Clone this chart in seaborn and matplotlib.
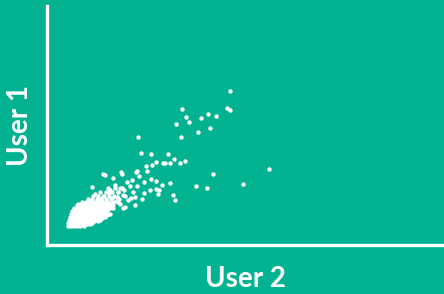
import numpy as np
import pandas as pd
import matplotlib.pyplot as plt
import seaborn as sns

# =========================
# DATA (user 2 vs user 1 scores)

# dense cluster near the origin
blob_x = [21, 24, 27, 30, 33, 37,
          21, 24, 27, 30, 33, 36, 39, 42, 45,
          22, 25, 28, 31, 34, 37, 40, 43, 46, 49, 53,
          23, 26, 29, 32, 35, 38, 41, 44, 47, 50, 54, 58,
          24, 27, 30, 33, 36, 39, 42, 45, 48, 51, 55, 59, 63,
          25, 28, 31, 34, 37, 40, 43, 46, 49, 52, 56, 60,
          27, 30, 33, 36, 39, 42, 45, 49, 53, 57, 62, 66,
          30, 33, 36, 40, 44, 47, 51, 55, 59, 64,
          35, 39, 43, 47, 51, 56, 61, 66, 71,
          41, 45, 50, 54, 59, 64,
          46, 51, 57, 62, 67,
          53, 59, 65, 71,
          61, 68, 73,
          # in-between rows
          22, 25, 28, 31, 34, 37, 40, 43,
          23, 26, 29, 32, 35, 38, 41, 44, 47, 51,
          24, 27, 30, 33, 36, 39, 42, 45, 48, 51, 55,
          25, 28, 31, 34, 37, 40, 43, 46, 49, 52, 56, 60,
          26, 29, 32, 35, 38, 41, 44, 47, 50, 54, 58,
          28, 31, 34, 37, 40, 43, 46, 50, 54, 58,
          31, 34, 37, 40, 43, 47, 51, 55, 60,
          36, 40, 44, 48, 52, 57, 62]
blob_y = [19, 19, 19, 19, 19, 19,
          22, 22, 22, 22, 22, 22, 22, 22, 22,
          25, 25, 25, 25, 25, 25, 25, 25, 25, 25, 25,
          28, 28, 28, 28, 28, 28, 28, 28, 28, 28, 28, 28,
          31, 31, 31, 31, 31, 31, 31, 31, 31, 31, 31, 31, 31,
          34, 34, 34, 34, 34, 34, 34, 34, 34, 34, 34, 34,
          37, 37, 37, 37, 37, 37, 37, 37, 37, 37, 37, 37,
          40, 40, 40, 40, 40, 40, 40, 40, 40, 40,
          43, 43, 43, 43, 43, 43, 43, 43, 43,
          46, 46, 46, 46, 46, 46,
          49, 49, 49, 49, 49,
          53, 53, 53, 53,
          57, 57, 57,
          20.5, 20.5, 20.5, 20.5, 20.5, 20.5, 20.5, 20.5,
          23.5, 23.5, 23.5, 23.5, 23.5, 23.5, 23.5, 23.5, 23.5, 23.5,
          26.5, 26.5, 26.5, 26.5, 26.5, 26.5, 26.5, 26.5, 26.5, 26.5, 26.5,
          29.5, 29.5, 29.5, 29.5, 29.5, 29.5, 29.5, 29.5, 29.5, 29.5, 29.5, 29.5,
          32.5, 32.5, 32.5, 32.5, 32.5, 32.5, 32.5, 32.5, 32.5, 32.5, 32.5,
          35.5, 35.5, 35.5, 35.5, 35.5, 35.5, 35.5, 35.5, 35.5, 35.5,
          38.5, 38.5, 38.5, 38.5, 38.5, 38.5, 38.5, 38.5, 38.5,
          41.5, 41.5, 41.5, 41.5, 41.5, 41.5, 41.5]

# scattered points
spread_x = [183, 180, 183, 135, 139, 142, 129, 154, 161, 169, 151, 163, 134, 91,
            222, 196, 166, 149, 160, 138, 133, 127, 121, 118, 123, 104, 94, 109,
            99, 105, 116, 58, 123, 115, 126, 128, 109, 112, 104, 90, 89, 74, 75,
            56, 66, 45, 48, 31, 109, 111, 103, 97, 95, 84, 77, 76, 72, 70, 63,
            60, 55, 52, 62, 88, 88, 78, 69, 54,
            53, 56, 59, 63, 65, 68, 71, 73, 75, 78, 80, 83, 86, 61, 66, 57, 50,
            70, 76, 81, 85, 90, 92, 97, 100]
spread_y = [154, 137, 135, 136, 128, 123, 121, 127, 131, 129, 113, 117, 108, 108,
            76, 61, 71, 59, 57, 84, 82, 86, 91, 82, 82, 91, 92, 83,
            79, 80, 82, 70, 62, 60, 50, 45, 64, 55, 66, 74, 73, 73, 71,
            71, 67, 58, 51, 41, 56, 51, 55, 52, 46, 47, 55, 50, 46, 48, 37,
            39, 41, 36, 52, 40, 48, 38, 44, 45,
            45, 49, 42, 55, 47, 60, 53, 41, 57, 49, 63, 59, 53, 37, 40, 35, 40,
            48, 37, 45, 65, 59, 69, 63, 74]

user2 = blob_x + spread_x
user1 = blob_y + spread_y
df = pd.DataFrame({"user2": user2, "user1": user1})

# =========================
# PLOT

bg = "#03B291"
sns.set_style("white")
plt.rcParams["font.family"] = ["Lato", "DejaVu Sans"]

fig = plt.figure(figsize=(4.44, 2.94), dpi=100, facecolor=bg)
ax = fig.add_axes([0.106, 0.167, 0.894, 0.813])
ax.set_facecolor(bg)

sns.scatterplot(data=df, x="user2", y="user1", ax=ax, color="white",
                s=10, linewidth=0)

ax.set_xlim(0, 397)
ax.set_ylim(0, 239)
ax.set_xticks([])
ax.set_yticks([])
for side in ["top", "right"]:
    ax.spines[side].set_visible(False)
for side in ["left", "bottom"]:
    ax.spines[side].set_color("white")
    ax.spines[side].set_linewidth(2.4)

ax.set_xlabel("User 2", color="white", fontsize=20, fontweight="bold", labelpad=15)
ax.set_ylabel("User 1", color="white", fontsize=20, fontweight="bold", labelpad=10)

fig.savefig("out.png", dpi=100, facecolor=bg)
